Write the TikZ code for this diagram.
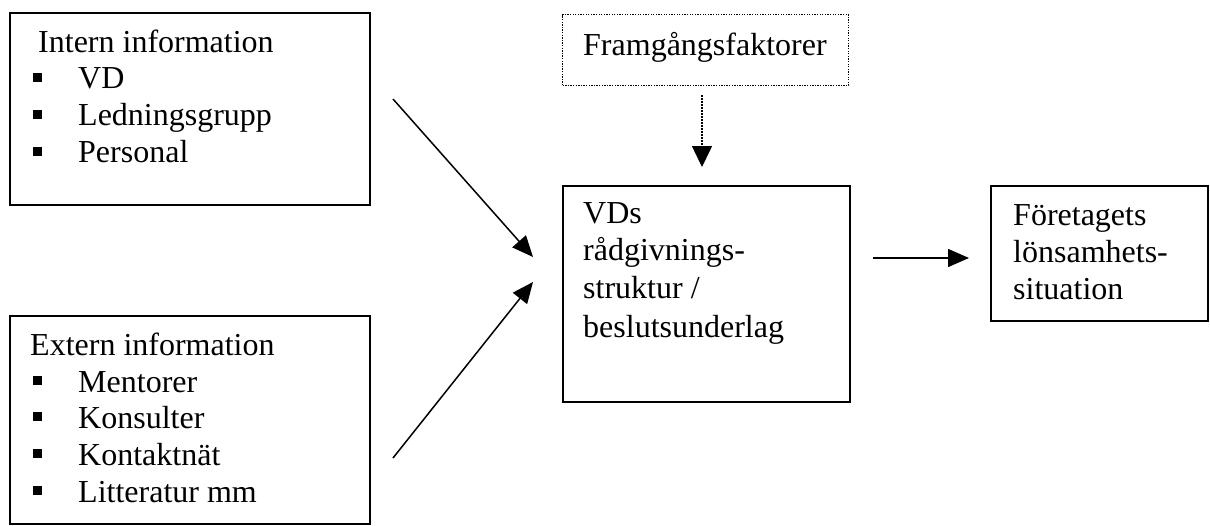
\documentclass[tikz,border=0pt]{standalone}
\usepackage{fontspec}
\setmainfont{Liberation Serif}
\usetikzlibrary{arrows.meta}
\tikzset{
  box/.style={draw, line width=1.5pt, inner sep=0pt, anchor=north west},
  dotbox/.style={draw, line width=1.3pt, dash pattern=on 1.3pt off 1.3pt, inner sep=0pt, anchor=north west},
  txt/.style={inner sep=0pt, anchor=base west, font=\fontsize{32}{37}\selectfont},
  arr/.style={line width=1.5pt, -{Triangle[length=21pt,width=18pt]}},
  dotarr/.style={line width=1.5pt, dash pattern=on 1.5pt off 1.5pt, -{Triangle[length=21pt,width=20pt]}},
  bul/.style={fill=black}
}
\begin{document}
\begin{tikzpicture}[x=1pt,y=-1pt]
\useasboundingbox (0,0) rectangle (1210,525);
% boxes
\node[box, minimum width=360pt, minimum height=192pt] (intern) at (9,12) {};
\node[box, minimum width=360pt, minimum height=208pt] (extern) at (9,315) {};
\node[dotbox, minimum width=286pt, minimum height=71pt] (framg) at (562,14) {};
\node[box, minimum width=287pt, minimum height=216pt] (vds) at (562,185) {};
\node[box, minimum width=217pt, minimum height=135pt] (foretag) at (990,185) {};
% intern text
\node[txt] (t1) at (38,52) {Intern information};
\node[txt] (t2) at (78,88) {VD};
\node[txt] (t3) at (78,125) {Ledningsgrupp};
\node[txt] (t4) at (78,162) {Personal};
\foreach \b in {88,125,162} \fill[bul] (33,\b-15) rectangle (42,\b-6);
% extern text
\node[txt] (e1) at (30,355) {Extern information};
\node[txt] (e2) at (78,392) {Mentorer};
\node[txt] (e3) at (78,428) {Konsulter};
\node[txt] (e4) at (78,465) {Kontaktnät};
\node[txt] (e5) at (78,502) {Litteratur mm};
\foreach \b in {392,428,465,502} \fill[bul] (33,\b-16) rectangle (42,\b-7);
% framgang
\node[txt] (f1) at (583,55) {Framgångsfaktorer};
% vds
\node[txt] (v1) at (583,223) {VDs};
\node[txt] (v2) at (583,260) {rådgivnings-};
\node[txt] (v3) at (583,298) {struktur /};
\node[txt] (v4) at (583,337) {beslutsunderlag};
% foretag
\node[txt] (r1) at (1013,225) {Företagets};
\node[txt] (r2) at (1013,262) {lönsamhets-};
\node[txt] (r3) at (1013,299) {situation};
% connectors
\coordinate (a1s) at (393,99);
\coordinate (a1e) at (533,257);
\coordinate (a2s) at (393,458);
\coordinate (a2e) at (533,282);
\coordinate (a3s) at (702,95);
\coordinate (a3e) at (702,167);
\coordinate (a4s) at (873,258);
\coordinate (a4e) at (969,258);
\draw[arr] (a1s) -- (a1e);
\draw[arr] (a2s) -- (a2e);
\draw[dotarr] (a3s) -- (a3e);
\draw[arr] (a4s) -- (a4e);
\end{tikzpicture}
\end{document}
